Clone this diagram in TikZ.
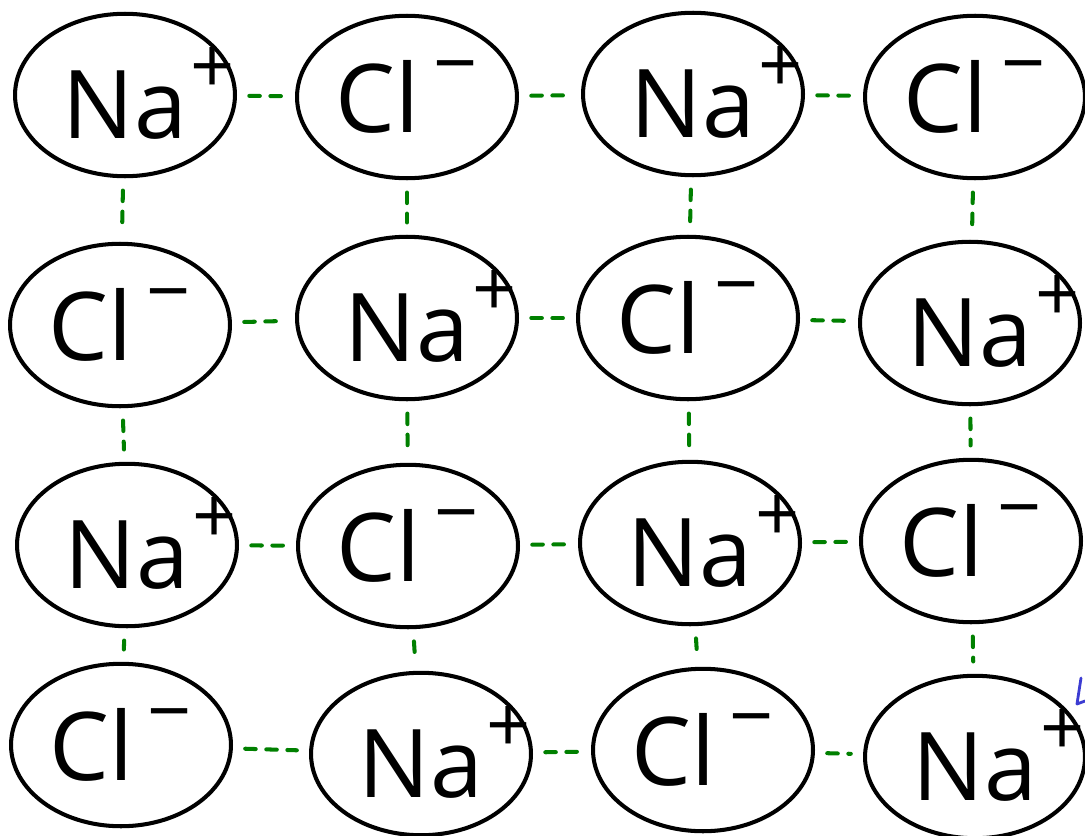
\documentclass[tikz,border=0pt]{standalone}
\usepackage{fontspec}
\setmainfont{Open Sans}
\usetikzlibrary{shapes.geometric}
\definecolor{bondgreen}{RGB}{0,128,0}
\definecolor{penblue}{RGB}{60,60,210}
\newcommand\chg[2]{\smash{\raisebox{#1}{\fontsize{44}{44}\selectfont #2}}}
\newcommand\na{\vphantom{Na}\smash{\raisebox{-6pt}{Na}}\rlap{\hspace{2pt}\chg{20pt}{+}}}
\newcommand\cl{Cl\hspace{8pt}\chg{24pt}{\textminus}}
\tikzset{
	ion/.style={ellipse, draw, line width=2.3pt, minimum width=4.4cm, minimum height=3.25cm, inner sep=0pt},
	bond/.style={draw=bondgreen, line width=2.3pt, dash pattern=on 6pt off 6pt, shorten <=7pt, shorten >=7pt}
}
\begin{document}
\begin{tikzpicture}[x=0.02cm, y=-0.02cm, line join=round, line cap=round, font=\fontsize{54}{60}\selectfont]
	\useasboundingbox (0,0) rectangle (1085,835);
	\clip (0,0) rectangle (1085,835);
	% first row
	\node[ion] (a1) at (125,95) {\na};
	\node[ion] (a2) at (407,97) {\cl};
	\node[ion] (a3) at (693,94) {\na};
	\node[ion] (a4) at (975,97) {\cl};
	% second row
	\node[ion] (b1) at (120,325) {\cl};
	\node[ion] (b2) at (407,318) {\na};
	\node[ion] (b3) at (688,318) {\cl};
	\node[ion] (b4) at (970,323) {\na};
	% third row
	\node[ion] (c1) at (127,545) {\na};
	\node[ion] (c2) at (408,546) {\cl};
	\node[ion] (c3) at (690,543) {\na};
	\node[ion] (c4) at (971,541) {\cl};
	% fourth row
	\node[ion] (d1) at (121,745) {\cl};
	\node[ion] (d2) at (421,754) {\na};
	\node[ion] (d3) at (703,750) {\cl};
	\node[ion] (d4) at (975,757) {\na};
	% bonds
	\foreach \r in {a,b,c,d}
	{\foreach \i/\j in {1/2,2/3,3/4}
		\draw[bond] (\r\i)--(\r\j);}
	\foreach \c in {1,2,3,4}
	{\foreach \u/\v in {a/b,b/c,c/d}
		\draw[bond] (\u\c)--(\v\c);}
	% pen mark at the edge
	\draw[penblue, line width=1.6pt] (1081,678)--(1077,704)--(1085,701);
\end{tikzpicture}
\end{document}
